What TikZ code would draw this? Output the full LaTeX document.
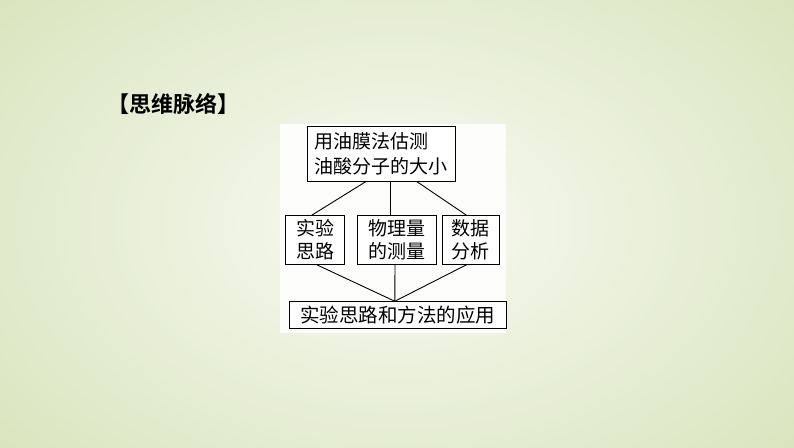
\documentclass[tikz,border=0pt]{standalone}
\usepackage{fontspec}
\newfontfamily\cjk{Noto Sans CJK SC}
\newfontfamily\cjkbold{Noto Sans CJK SC Bold}
\usetikzlibrary{calc}
\definecolor{bgouter}{HTML}{DAE5BF}
\definecolor{bginner}{HTML}{F9FAF3}
\tikzset{
  box/.style={draw=black, line width=1pt, fill=white, inner sep=0pt, align=center,
    font=\cjk\fontsize{19}{23}\selectfont},
  link/.style={draw=black, line width=0.9pt}
}
\begin{document}
\begin{tikzpicture}[x=1pt,y=-1pt]
\useasboundingbox (0,0) rectangle (794,447);
\shade[inner color=bginner, outer color=bgouter] (-120,-120) rectangle (914,567);
\fill[white!70!bginner] (280,124) rectangle (506,333);
\node[font=\cjkbold\fontsize{22}{26}\selectfont, anchor=west, inner sep=0pt] (title) at (107,104) {【思维脉络】};
\node[box, minimum width=148, minimum height=55, align=left, font=\cjk\fontsize{19}{25}\selectfont] (top) at (381,153.5) {用油膜法估测\\油酸分子的大小};
\node[box, minimum width=59, minimum height=48.5] (b1) at (315.3,240) {实验\\思路};
\node[box, minimum width=79.5, minimum height=48.5] (b2) at (397,240) {物理量\\的测量};
\node[box, minimum width=57, minimum height=48.5] (b3) at (470.5,240) {数据\\分析};
\node[box, minimum width=217.5, minimum height=26.5, font=\cjk\fontsize{19.5}{22}\selectfont] (bot) at (397.8,315) {实验思路和方法的应用};
\draw[link] ([xshift=-15]top.south) -- ([xshift=-3.6]b1.north);
\draw[link] ([xshift=9]top.south) -- ([xshift=-7]b2.north);
\draw[link] ([xshift=35.7]top.south) -- ([xshift=-4]b3.north);
\draw[link] ([xshift=1.4]b1.south) -- ([xshift=-3]bot.north);
\draw[link] ([xshift=-2]b2.south) -- ([xshift=-3]bot.north);
\draw[link] ([xshift=-4]b3.south) -- ([xshift=-3]bot.north);
\end{tikzpicture}
\end{document}
